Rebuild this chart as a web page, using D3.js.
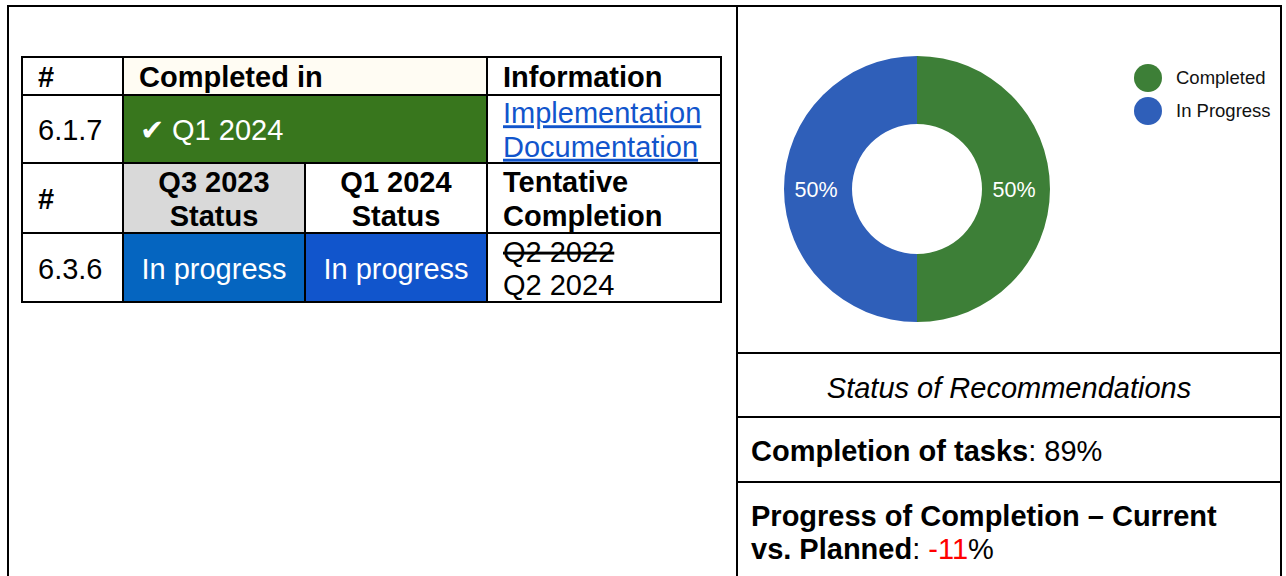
<!DOCTYPE html>
<html>
<head>
<meta charset="utf-8">
<script src="https://cdn.jsdelivr.net/npm/d3@7"></script>
<style>
body { margin: 0; background: #fff; }
svg { display: block; font-family: Arial, "Liberation Sans", sans-serif; }
</style>
</head>
<body>
<svg id="chart" width="1286" height="576"></svg>
<script>
// ---- data ----
var statusLabels = ["Completed", "In Progress"];
var statusCounts = [1, 1];
var statusColors = ["#3d7f37", "#2f5fb9"];

var completedHeader = ["#", "Completed in", "Information"];
var completedItem = ["6.1.7", "\u2714 Q1 2024"];
var infoLinks = ["Implementation", "Documentation"];

var progressHeader = ["#", ["Q3 2023", "Status"], ["Q1 2024", "Status"], ["Tentative", "Completion"]];
var progressItem = ["6.3.6", "In progress", "In progress"];
var plannedDates = ["Q2 2022", "Q2 2024"]; // first one was struck out

var completionOfTasks = 89;
var progressVsPlanned = -11;

// ---- layout ----
var svg = d3.select("#chart");
var FS = 29;          // big text size
var LH = 33.5;        // line height in table

var colX = [22, 123, 305, 487, 721];
var rowY = [57, 95, 163, 233, 302];

function cellBg(c0, c1, r, fill) {
	svg.append("rect")
		.attr("x", colX[c0])
		.attr("y", rowY[r])
		.attr("width", colX[c1] - colX[c0])
		.attr("height", rowY[r + 1] - rowY[r])
		.style("fill", fill);
}

// lines: array of strings, draws them vertically centred in row r
function cellText(lines, x, r, anchor, opts) {
	opts = opts || {};
	var mid = (rowY[r] + rowY[r + 1]) / 2;
	var first = mid - (lines.length - 1) * LH / 2 + 11;
	lines.forEach(function(t, i) {
		var txt = svg.append("text")
			.attr("x", x)
			.attr("y", first + i * LH)
			.attr("text-anchor", anchor || "start")
			.style("font-size", FS + "px")
			.style("font-weight", opts.bold ? "bold" : "normal")
			.style("fill", opts.color || "#000")
			.text(t);
		if (opts.deco && opts.deco[i]) txt.style("text-decoration", opts.deco[i]);
	});
}

// backgrounds
cellBg(0, 4, 0, "#fff");
cellBg(1, 3, 0, "#fffcf3");
cellBg(1, 3, 1, "#38761d");
cellBg(1, 2, 2, "#d9d9d9");
cellBg(1, 2, 3, "#0565c0");
cellBg(2, 3, 3, "#1155cc");

// first table
cellText([completedHeader[0]], colX[0] + 16, 0, "start", {bold: true});
cellText([completedHeader[1]], colX[1] + 16, 0, "start", {bold: true});
cellText([completedHeader[2]], colX[3] + 16, 0, "start", {bold: true});
cellText([completedItem[0]], colX[0] + 16, 1);
cellText([completedItem[1]], colX[1] + 17, 1, "start", {color: "#fff"});
cellText(infoLinks, colX[3] + 16, 1, "start", {color: "#1155cc", deco: ["underline", "underline"]});

// second table
cellText([progressHeader[0]], colX[0] + 16, 2, "start", {bold: true});
cellText(progressHeader[1], (colX[1] + colX[2]) / 2, 2, "middle", {bold: true});
cellText(progressHeader[2], (colX[2] + colX[3]) / 2, 2, "middle", {bold: true});
cellText(progressHeader[3], colX[3] + 16, 2, "start", {bold: true});
cellText([progressItem[0]], colX[0] + 16, 3);
cellText([progressItem[1]], (colX[1] + colX[2]) / 2, 3, "middle", {color: "#fff"});
cellText([progressItem[2]], (colX[2] + colX[3]) / 2, 3, "middle", {color: "#fff"});
cellText(plannedDates, colX[3] + 16, 3, "start", {deco: ["line-through", null]});

// grid lines
rowY.forEach(function(y) {
	svg.append("line")
		.attr("x1", colX[0] - 1).attr("x2", colX[4] + 1)
		.attr("y1", y).attr("y2", y)
		.style("stroke", "#000").style("stroke-width", 2);
});
colX.forEach(function(x, i) {
	for (var r = 0; r < 4; r++) {
		if (i === 2 && r < 2) continue; // merged "Completed in" cells
		svg.append("line")
			.attr("x1", x).attr("x2", x)
			.attr("y1", rowY[r]).attr("y2", rowY[r + 1])
			.style("stroke", "#000").style("stroke-width", 2);
	}
});

// ---- outer frame and right panel ----
var frame = {left: 8, top: 6, right: 1281, split: 737, bottom: 600};
svg.append("path")
	.attr("d", "M" + frame.left + "," + frame.bottom + "V" + frame.top + "H" + frame.right + "V" + frame.bottom)
	.style("fill", "none").style("stroke", "#000").style("stroke-width", 2);
svg.append("line")
	.attr("x1", frame.split).attr("x2", frame.split)
	.attr("y1", frame.top).attr("y2", frame.bottom)
	.style("stroke", "#000").style("stroke-width", 2);
[353, 417, 482].forEach(function(y) {
	svg.append("line")
		.attr("x1", frame.split).attr("x2", frame.right)
		.attr("y1", y).attr("y2", y)
		.style("stroke", "#000").style("stroke-width", 2);
});

// ---- donut ----
var total = d3.sum(statusCounts);
var pie = d3.pie().sort(null);
var arc = d3.arc().innerRadius(65).outerRadius(133);
var color = d3.scaleOrdinal().domain(statusLabels).range(statusColors);
var fmt = d3.format(".0%");

var donut = svg.append("g").attr("transform", "translate(917,189)");
var slices = pie(statusCounts);
donut.selectAll("path")
	.data(slices)
	.enter().append("path")
	.attr("d", arc)
	.style("fill", function(d, i) { return color(statusLabels[i]); });
donut.selectAll("text")
	.data(slices)
	.enter().append("text")
	.attr("x", function(d) { return arc.centroid(d)[0] - 2; })
	.attr("y", function(d) { return arc.centroid(d)[1]; })
	.attr("dy", ".35em")
	.attr("text-anchor", "middle")
	.style("font-size", "21.5px")
	.style("fill", "#fff")
	.text(function(d) { return fmt(d.value / total); });

// legend
var legend = svg.append("g").attr("transform", "translate(1148,78)");
var item = legend.selectAll("g")
	.data(statusLabels)
	.enter().append("g")
	.attr("transform", function(d, i) { return "translate(0," + (i * 33) + ")"; });
item.append("circle")
	.attr("r", 14)
	.style("fill", function(d) { return color(d); });
item.append("text")
	.attr("x", 28)
	.attr("dy", ".3em")
	.style("font-size", "18.5px")
	.style("fill", "#111")
	.text(function(d) { return d; });

// ---- status boxes ----
svg.append("text")
	.attr("x", (frame.split + frame.right) / 2)
	.attr("y", 398)
	.attr("text-anchor", "middle")
	.style("font-size", FS + "px")
	.style("font-style", "italic")
	.text("Status of Recommendations");

var t1 = svg.append("text")
	.attr("x", 751).attr("y", 461)
	.style("font-size", FS + "px");
t1.append("tspan").style("font-weight", "bold").text("Completion of tasks");
t1.append("tspan").text(": " + completionOfTasks + "%");

var t2 = svg.append("text")
	.attr("x", 751).attr("y", 526)
	.style("font-size", FS + "px");
t2.append("tspan").style("font-weight", "bold").text("Progress of Completion \u2013 Current");
var t3 = svg.append("text")
	.attr("x", 751).attr("y", 559)
	.style("font-size", FS + "px");
t3.append("tspan").style("font-weight", "bold").text("vs. Planned");
t3.append("tspan").text(": ");
t3.append("tspan").style("fill", "#ff0000").text(progressVsPlanned);
t3.append("tspan").text("%");
</script>
</body>
</html>
